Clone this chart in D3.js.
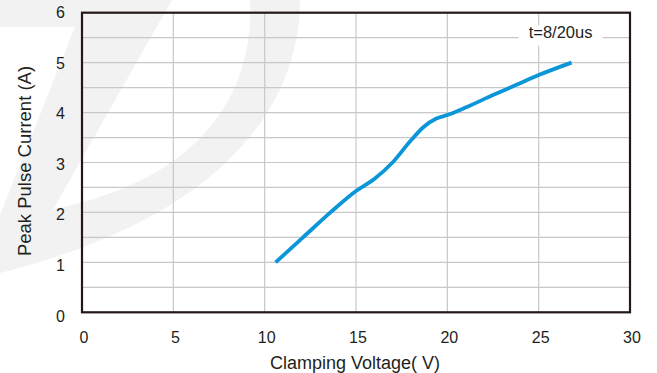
<!DOCTYPE html>
<html>
<head>
<meta charset="utf-8">
<script src="https://cdn.jsdelivr.net/npm/d3@7/dist/d3.min.js"></script>
<style>
  html, body { margin: 0; padding: 0; background: #ffffff; }
  svg { display: block; font-family: "Liberation Sans", Arial, Helvetica, sans-serif; }
</style>
</head>
<body>
<svg id="chart" width="657" height="373"></svg>
<script>
// Clamping voltage (V) vs peak pulse current (A), 8/20us pulse
const voltage = [10.6, 12.1, 13.6, 15.0, 16.0, 17.0, 18.0, 18.7, 19.4, 20.0, 21.0, 22.5, 23.75, 25.0, 26.8];
const current = [1.0, 1.5, 2.0, 2.43, 2.67, 3.0, 3.44, 3.71, 3.88, 3.95, 4.1, 4.35, 4.55, 4.75, 5.0];

const xTicks = [0, 5, 10, 15, 20, 25, 30];
const yTicks = [0, 1, 2, 3, 4, 5, 6];
const yGrid = [0.5, 1, 1.5, 2, 2.5, 3, 3.5, 4, 4.5, 5, 5.5];
const xGrid = [5, 10, 15, 20, 25];

const xTitle = "Clamping Voltage( V)";
const yTitle = "Peak Pulse Current (A)";
const pulseNote = "t=8/20us";

const plot = { left: 82, right: 630, top: 12.7, bottom: 312.3 };

const svg = d3.select("#chart");

const x = d3.scaleLinear().domain([0, 30]).range([plot.left, plot.right]);
const y = d3.scaleLinear().domain([0, 6]).range([plot.bottom, plot.top]);

// faint background logo strokes
const wm = svg.append("g").attr("fill", "#f2f2f2");
wm.append("path").attr("d", "M0,0 L172,0 L30,250 L0,262 L0,215 L75,27 L0,27 Z");
wm.append("path").attr("d", "M300,0 C300,100 230,215 0,273 L0,217 C170,200 255,120 250,0 Z");

// grid
const grid = svg.append("g").attr("stroke", "#c8c8c8").attr("stroke-width", 1.2);
grid.selectAll("line.h").data(yGrid).join("line")
  .attr("class", "h")
  .attr("x1", plot.left).attr("x2", plot.right)
  .attr("y1", d => y(d)).attr("y2", d => y(d));
grid.selectAll("line.v").data(xGrid).join("line")
  .attr("class", "v")
  .attr("y1", plot.top).attr("y2", plot.bottom)
  .attr("x1", d => x(d)).attr("x2", d => x(d));

// pulse note with white backing
const noteX = x(26.2), noteY = y(5.5);
svg.append("rect")
  .attr("x", noteX - 42).attr("y", noteY - 12)
  .attr("width", 84).attr("height", 20)
  .attr("fill", "#ffffff");
svg.append("text")
  .attr("x", noteX).attr("y", noteY + 0.5)
  .attr("text-anchor", "middle")
  .attr("font-size", 16.5)
  .attr("fill", "#231f20")
  .text(pulseNote);

// curve
const pts = voltage.map((v, i) => [v, current[i]]);
const line = d3.line()
  .x(d => x(d[0]))
  .y(d => y(d[1]))
  .curve(d3.curveMonotoneX);
svg.append("path")
  .datum(pts)
  .attr("d", line)
  .attr("fill", "none")
  .attr("stroke", "#0a96d8")
  .attr("stroke-width", 3.8)
  .attr("stroke-linejoin", "round");

// frame
svg.append("rect")
  .attr("x", plot.left).attr("y", plot.top)
  .attr("width", plot.right - plot.left)
  .attr("height", plot.bottom - plot.top)
  .attr("fill", "none")
  .attr("stroke", "#231815")
  .attr("stroke-width", 2.2);

// axes (labels only, frame drawn above)
const fmt = d3.format("d");
const xAxis = d3.axisBottom(x).tickValues(xTicks).tickFormat(fmt).tickSize(0).tickPadding(0);
const gx = svg.append("g").attr("transform", `translate(1.5,${plot.bottom + 31})`).call(xAxis);
gx.select(".domain").remove();
gx.selectAll("text").attr("font-size", 16).attr("fill", "#231f20")
  .attr("font-family", "Liberation Sans, Arial, sans-serif").attr("dy", 0);

const yLabelPos = d3.scaleLinear().domain([0, 6]).range([316, 12.5]);
const yAxis = d3.axisLeft(yLabelPos).tickValues(yTicks).tickFormat(fmt).tickSize(0).tickPadding(0);
const gy = svg.append("g").attr("transform", `translate(65,0)`).call(yAxis);
gy.select(".domain").remove();
gy.selectAll("text").attr("font-size", 16).attr("fill", "#231f20")
  .attr("font-family", "Liberation Sans, Arial, sans-serif");

// axis titles
svg.append("text")
  .attr("x", 355).attr("y", 369)
  .attr("text-anchor", "middle")
  .attr("font-size", 18)
  .attr("fill", "#231f20")
  .text(xTitle);

svg.append("text")
  .attr("transform", "translate(30.5,161) rotate(-90)")
  .attr("text-anchor", "middle")
  .attr("font-size", 18.5)
  .attr("fill", "#231f20")
  .text(yTitle);
</script>
</body>
</html>
